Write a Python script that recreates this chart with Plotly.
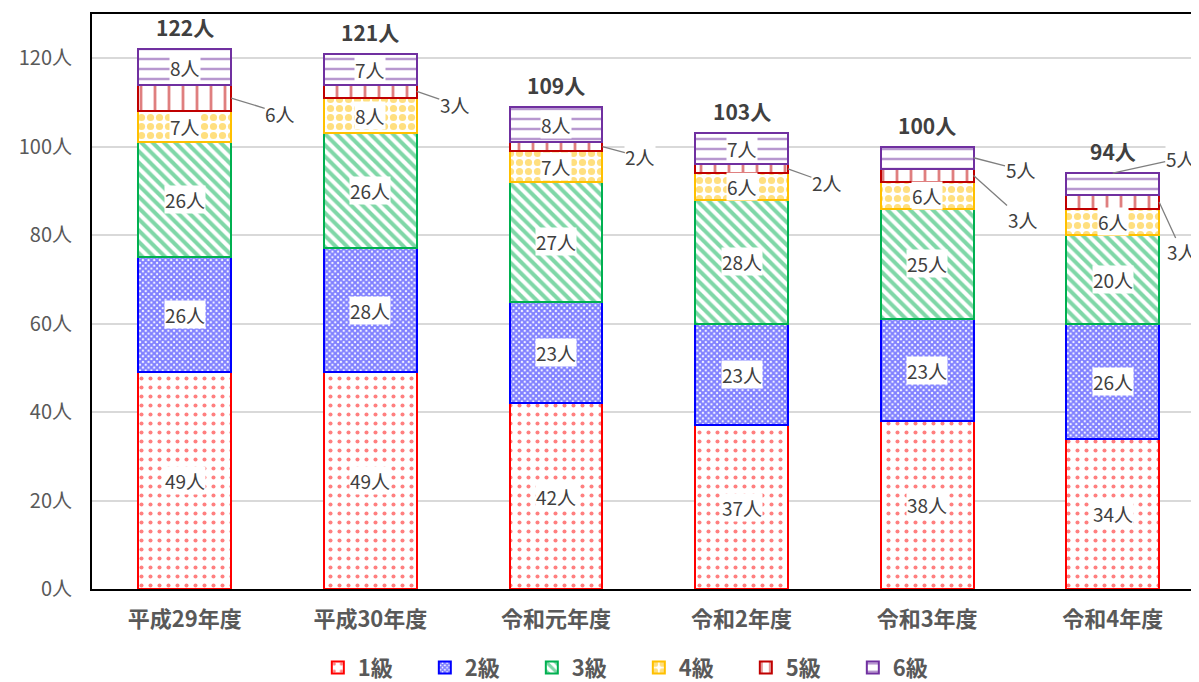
import plotly.graph_objects as go

categories = ["平成29年度", "平成30年度", "令和元年度", "令和2年度", "令和3年度", "令和4年度"]
series_names = ["1級", "2級", "3級", "4級", "5級", "6級"]
grade1 = [49, 49, 42, 37, 38, 34]
grade2 = [26, 28, 23, 23, 23, 26]
grade3 = [26, 26, 27, 28, 25, 20]
grade4 = [7, 8, 7, 6, 6, 6]
grade5 = [6, 3, 2, 2, 3, 3]
grade6 = [8, 7, 8, 7, 5, 5]
y_ticks = [0, 20, 40, 60, 80, 100, 120]
y_tick_labels = ["0人", "20人", "40人", "60人", "80人", "100人", "120人"]

series_values = [grade1, grade2, grade3, grade4, grade5, grade6]
colors = ["#FF0000", "#0000FF", "#00B050", "#FFC000", "#C00000", "#7030A0"]
patterns = [
    dict(shape=".", size=9, solidity=0.16),
    dict(shape="x", size=4, solidity=0.75),
    dict(shape="\\", size=8, solidity=0.5),
    dict(shape=".", size=9, solidity=0.5),
    dict(shape="|", size=14, solidity=0.2),
    dict(shape="-", size=10, solidity=0.25),
]

FONT = "Noto Sans CJK JP"
fig = go.Figure()
for name, vals, col, pat in zip(series_names, series_values, colors, patterns):
    fig.add_trace(go.Bar(
        name=name, x=categories, y=vals,
        marker=dict(color="white", line=dict(color=col, width=2),
                    pattern=dict(fgcolor=col, bgcolor="white", fillmode="overlay", **pat)),
        hoverinfo="skip",
    ))

annotations = []
# outside labels: (series index, category index) -> (x offset, ax, ay)
outside = {
    (4, 0): (0.25, 49, 15),
    (4, 1): (0.25, 38, 13),
    (4, 2): (0.25, 38, 10),
    (4, 3): (0.25, 39, 14),
    (5, 4): (0.25, 47, 12),
    (4, 4): (0.25, 49, 44),
    (5, 5): (0.0, 68, -15),
    (4, 5): (0.25, 23, 50),
}
for ci in range(len(categories)):
    base = 0
    for si, vals in enumerate(series_values):
        v = vals[ci]
        mid = base + v / 2
        if (si, ci) in outside:
            dx, ax, ay = outside[(si, ci)]
            ypos = base + v if dx == 0.0 else mid
            annotations.append(dict(
                x=ci + dx, y=ypos, xref="x", yref="y", text=f"{v}人",
                showarrow=True, arrowhead=0, arrowwidth=1.3, arrowcolor="#7f7f7f",
                ax=ax, ay=ay, font=dict(family=FONT, size=19, color="#404040"),
                bgcolor="white", borderpad=0))
        else:
            annotations.append(dict(
                x=ci, y=mid, xref="x", yref="y", text=f"{v}人", showarrow=False,
                font=dict(family=FONT, size=19, color="#404040"), bgcolor="white",
                borderpad=0))
        base += v
    annotations.append(dict(
        x=ci, y=base, xref="x", yref="y", text=f"<b>{base}人</b>", showarrow=False,
        yshift=22, font=dict(family=FONT, size=21, color="#404040")))

fig.update_layout(
    barmode="stack", bargap=0.5,
    width=1191, height=674,
    margin=dict(l=84, r=0, t=6, b=93, autoexpand=False),
    paper_bgcolor="white", plot_bgcolor="white",
    font=dict(family=FONT, color="#595959"),
    annotations=annotations,
    legend=dict(orientation="h", x=0.204, xanchor="left", y=-0.137, yanchor="middle",
                font=dict(family=FONT, size=22, color="#595959", weight="bold"),
                itemwidth=30, traceorder="normal", entrywidth=62),
    showlegend=True,
)
fig.update_xaxes(
    type="category", range=[-0.5, 5.465], automargin=False,
    showline=True, linecolor="black", linewidth=2, mirror=True,
    tickfont=dict(family=FONT, size=22, color="#595959", weight="bold"),
    ticklabelstandoff=10, showgrid=False,
)
fig.update_yaxes(
    range=[0, 130], tickvals=y_ticks, ticktext=y_tick_labels, automargin=False,
    showline=True, linecolor="black", linewidth=2,
    gridcolor="#d9d9d9", gridwidth=1.5, zeroline=False,
    tickfont=dict(family=FONT, size=20, color="#595959"),
    ticklabelstandoff=14,
)
fig.write_html("out.html")
